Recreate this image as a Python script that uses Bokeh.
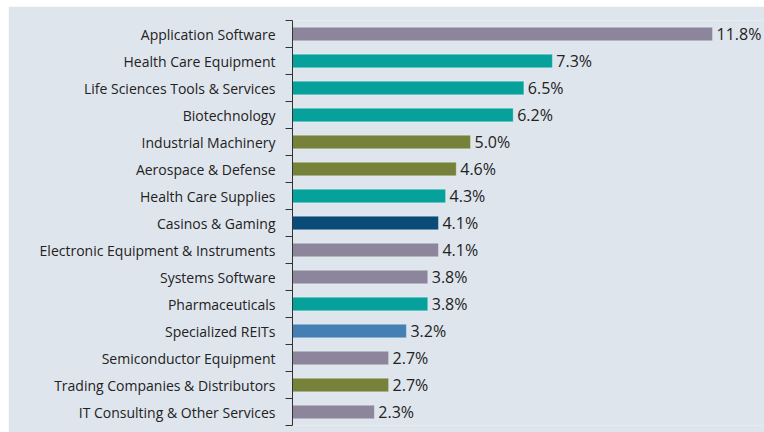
from bokeh.plotting import figure
from bokeh.models import FixedTicker, ColumnDataSource, Range1d, Spacer
from bokeh.layouts import row, column
from bokeh.core.properties import value
from bokeh.embed import file_html
from bokeh.resources import INLINE

categories = [
    "Application Software", "Health Care Equipment", "Life Sciences Tools & Services",
    "Biotechnology", "Industrial Machinery", "Aerospace & Defense", "Health Care Supplies",
    "Casinos & Gaming", "Electronic Equipment & Instruments", "Systems Software",
    "Pharmaceuticals", "Specialized REITs", "Semiconductor Equipment",
    "Trading Companies & Distributors", "IT Consulting & Other Services",
]
weights = [11.8, 7.3, 6.5, 6.2, 5.0, 4.6, 4.3, 4.1, 4.1, 3.8, 3.8, 3.2, 2.7, 2.7, 2.3]
sectors = ["IT", "HC", "HC", "HC", "IND", "IND", "HC", "CD", "IT", "IT", "HC", "RE", "IT", "IND", "IT"]
sector_colors = {"IT": "#8c859b", "HC": "#05a19a", "IND": "#76823a", "CD": "#0b4b78", "RE": "#4580b4"}

n = len(categories)
ypos = [n - 1 - i for i in range(n)]
src = ColumnDataSource(dict(
    y=ypos, w=weights, cat=categories,
    color=[sector_colors[s] for s in sectors],
    lab=[f"{v:.1f}%" for v in weights],
))

BG = "#dfe5ed"
W, H = 756, 426
LEFT, TOP, BOTTOM = 284, 14, 7
XMAX = 13.26

p = figure(width=W, height=H, output_backend="svg", toolbar_location=None,
           x_range=Range1d(0, XMAX), y_range=Range1d(-0.5, n - 0.5),
           x_axis_location=None, min_border_left=LEFT, min_border_right=0,
           min_border_top=TOP, min_border_bottom=BOTTOM,
           background_fill_color=BG, border_fill_color=BG)
p.outline_line_color = None
p.grid.visible = False

p.hbar(y="y", right="w", left=0, height=0.5, fill_color="color",
       line_color="white", line_alpha=0.3, line_width=1, source=src)
p.text(x="w", y="y", text="lab", source=src, x_offset=4, text_baseline="middle",
       text_align="left", text_font=value("Open Sans"), text_font_size="16px",
       text_color="#222222")

ax = p.yaxis[0]
ax.ticker = FixedTicker(ticks=ypos, minor_ticks=[k - 0.5 for k in range(n + 1)])
ax.major_label_overrides = {y: c for y, c in zip(ypos, categories)}
ax.major_tick_out = 0
ax.major_tick_in = 0
ax.minor_tick_out = 7
ax.minor_tick_in = 0
ax.minor_tick_line_color = "#333333"
ax.axis_line_color = "#333333"
ax.major_label_standoff = 10
ax.major_label_text_font = "Open Sans"
ax.major_label_text_font_size = "14px"
ax.major_label_text_color = "#222222"

layout = column(Spacer(width=764, height=6),
                row(Spacer(width=8, height=H), p, spacing=0),
                spacing=0)

open("out.html", "w").write(file_html(layout, INLINE))
